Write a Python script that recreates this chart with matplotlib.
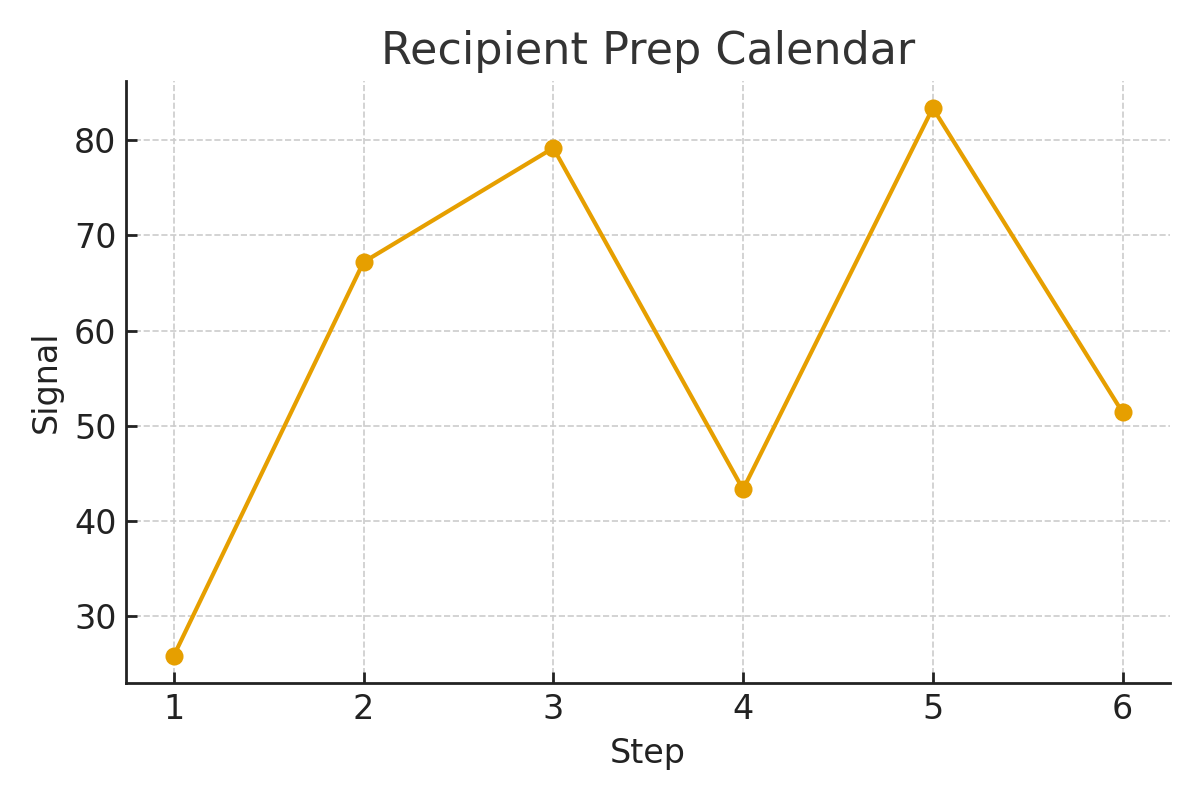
import matplotlib
matplotlib.use('Agg')
import matplotlib.pyplot as plt

steps = [1, 2, 3, 4, 5, 6]
signal = [25.8, 67.2, 79.2, 43.3, 83.4, 51.4]

LINE_COLOR = '#E69F00'
TEXT_COLOR = '#222222'

fig, ax = plt.subplots(figsize=(6, 4), dpi=200)

ax.plot(steps, signal, color=LINE_COLOR, linewidth=1.5, marker='o', markersize=5.5)

ax.set_title('Recipient Prep Calendar', fontsize=16, color='#333333')
ax.set_xlabel('Step', fontsize=12, color=TEXT_COLOR)
ax.set_ylabel('Signal', fontsize=12, color=TEXT_COLOR)
ax.tick_params(labelsize=12, direction='in', colors=TEXT_COLOR, length=4, width=1)

ax.grid(True, linestyle='--', linewidth=0.6, color='#cccccc')
ax.spines['top'].set_visible(False)
ax.spines['right'].set_visible(False)
for side in ('left', 'bottom'):
    ax.spines[side].set_color(TEXT_COLOR)
    ax.spines[side].set_linewidth(1.0)

plt.tight_layout()
plt.savefig('out.png', dpi=200, facecolor='white')
